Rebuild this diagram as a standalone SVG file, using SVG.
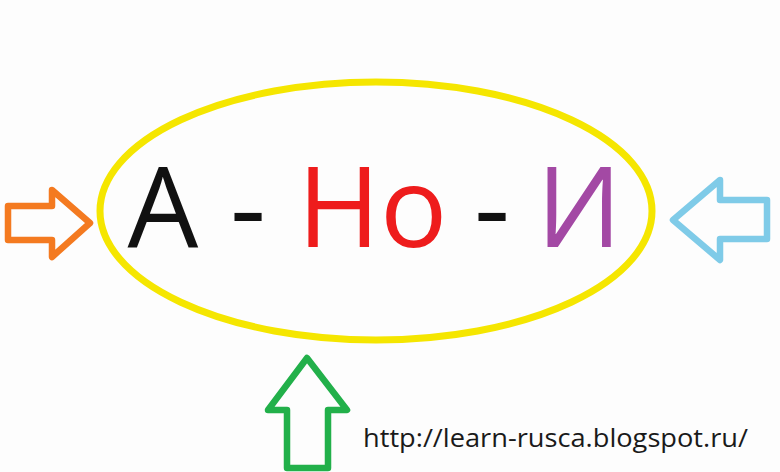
<svg xmlns="http://www.w3.org/2000/svg" width="780" height="472" viewBox="0 0 780 472">
<style>
.big{font-family:"Open Sans","Liberation Sans",sans-serif;font-size:112px;text-anchor:middle}
.arrow{fill:none;stroke-width:6.5;stroke-linejoin:round}
</style>
<rect width="780" height="472" fill="#fdfdfd"/>
<g id="ellipse">
<ellipse cx="376" cy="211" rx="276" ry="129" fill="none" stroke="#f5e600" stroke-width="7"/>
</g>
<g id="label">
<text class="big" x="163" y="247" fill="#111">А</text>
<text class="big" x="248" y="247" fill="#111">-</text>
<text class="big" x="372.5" y="247" fill="#ee1c1c">Но</text>
<text class="big" x="492" y="247" fill="#111">-</text>
<text class="big" x="579" y="247" fill="#a349a4">И</text>
</g>
<g id="connectors">
<path id="arrow-left" class="arrow" stroke="#f47a20" d="M8,206 H52 V190 L90,223 L52,257 V240 H8 Z"/>
<path id="arrow-right" class="arrow" stroke="#7fcbe8" d="M767,200 H720 V180 L673,220 L720,260 V239 H767 Z"/>
<path id="arrow-up" class="arrow" stroke="#22b04a" stroke-width="7" d="M307,358 L347,410 H328 V468 H287 V410 H268 Z"/>
</g>
<g id="url">
<text x="363" y="447" font-family="Open Sans,Liberation Sans,sans-serif" font-size="25.5" fill="#1a1a1a" textLength="385" lengthAdjust="spacingAndGlyphs">http://learn-rusca.blogspot.ru/</text>
</g>
</svg>
